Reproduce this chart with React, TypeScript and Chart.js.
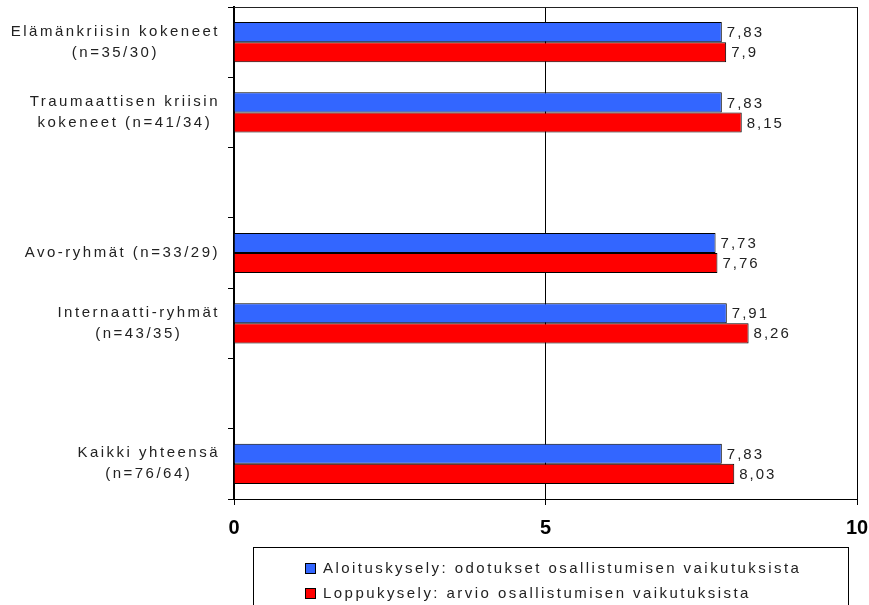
import React, { useEffect, useRef } from "react";
import { Chart, registerables } from "chart.js";

Chart.register(...registerables);

// ---- data ----
const categories: string[][] = [
  ["Elämänkriisin kokeneet", "(n=35/30)"],
  ["Traumaattisen kriisin", "kokeneet (n=41/34)"],
  [""],
  ["Avo-ryhmät (n=33/29)"],
  ["Internaatti-ryhmät", "(n=43/35)"],
  [""],
  ["Kaikki yhteensä", "(n=76/64)"],
];
const seriesNames = [
  "Aloituskysely: odotukset osallistumisen vaikutuksista",
  "Loppukysely: arvio osallistumisen vaikutuksista",
];
const alkuValues: (number | null)[] = [7.83, 7.83, null, 7.73, 7.91, null, 7.83];
const loppuValues: (number | null)[] = [7.9, 8.15, null, 7.76, 8.26, null, 8.03];
const xTicks = [0, 5, 10];
const seriesColors = ["#3366FF", "#FF0000"];

const FONT = "'Liberation Sans', Arial, sans-serif";

const fmt = (v: number) => String(v).replace(".", ",");

const yLabelPlugin = {
  id: "yLabels",
  afterDraw(chart: any) {
    const ctx = chart.ctx;
    const yScale = chart.scales.y;
    ctx.save();
    ctx.font = `15px ${FONT}`;
    (ctx as any).letterSpacing = "2.5px";
    ctx.fillStyle = "#222";
    ctx.textBaseline = "middle";
    ctx.textAlign = "center";
    const rightEdge = 220;
    const lh = 21;
    categories.forEach((lines, i) => {
      const cy = yScale.getPixelForValue(i);
      const maxW = Math.max(...lines.map((l) => ctx.measureText(l).width));
      const cx = rightEdge - maxW / 2;
      const startY = cy - ((lines.length - 1) * lh) / 2;
      lines.forEach((l, j) => {
        ctx.fillText(l, cx, startY + j * lh);
      });
    });
    ctx.restore();
  },
};

const valueLabelPlugin = {
  id: "valueLabels",
  afterDatasetsDraw(chart: any) {
    const ctx = chart.ctx;
    ctx.save();
    ctx.font = `15px ${FONT}`;
    (ctx as any).letterSpacing = "2px";
    ctx.fillStyle = "#222";
    ctx.textBaseline = "middle";
    ctx.textAlign = "left";
    chart.data.datasets.forEach((ds: any, di: number) => {
      const meta = chart.getDatasetMeta(di);
      meta.data.forEach((el: any, i: number) => {
        const v = ds.data[i];
        if (v == null) return;
        ctx.fillText(fmt(v), el.x + 5, el.y + 1);
      });
    });
    ctx.restore();
  },
};

const framePlugin = {
  id: "frame",
  afterDraw(chart: any) {
    const ctx = chart.ctx;
    const a = chart.chartArea;
    ctx.save();
    ctx.strokeStyle = "#222";
    ctx.lineWidth = 1;
    ctx.beginPath();
    ctx.moveTo(a.left, Math.round(a.top) + 0.5);
    ctx.lineTo(a.right + 0.5, Math.round(a.top) + 0.5);
    ctx.stroke();
    ctx.restore();
  },
};

const legendPlugin = {
  id: "boxLegend",
  afterDraw(chart: any) {
    const ctx = chart.ctx;
    ctx.save();
    ctx.strokeStyle = "#000";
    ctx.lineWidth = 1;
    ctx.strokeRect(253.5, 547.5, 595, 90);
    ctx.font = `15px ${FONT}`;
    (ctx as any).letterSpacing = "2.45px";
    ctx.textBaseline = "middle";
    ctx.textAlign = "left";
    seriesNames.forEach((name, i) => {
      const cy = 568 + i * 25;
      ctx.fillStyle = seriesColors[i];
      ctx.fillRect(305, cy - 5, 11, 11);
      ctx.strokeStyle = "#000";
      ctx.strokeRect(305.5, cy - 4.5, 10, 10);
      ctx.fillStyle = "#222";
      ctx.fillText(name, 323, cy + 1);
    });
    ctx.restore();
  },
};

export default function App() {
  const ref = useRef<HTMLCanvasElement | null>(null);

  useEffect(() => {
    if (!ref.current) return;
    const chart = new Chart(ref.current, {
      type: "bar",
      data: {
        labels: categories,
        datasets: [
          {
            label: seriesNames[0],
            data: alkuValues,
            backgroundColor: seriesColors[0],
            borderColor: "#000",
            borderWidth: 1,
            categoryPercentage: 0.572,
            barPercentage: 1,
          },
          {
            label: seriesNames[1],
            data: loppuValues,
            backgroundColor: seriesColors[1],
            borderColor: "#000",
            borderWidth: 1,
            categoryPercentage: 0.572,
            barPercentage: 1,
          },
        ],
      },
      options: {
        responsive: false,
        animation: false,
        indexAxis: "y",
        layout: { padding: { top: 7, right: 12, left: 0, bottom: 0 } },
        plugins: {
          legend: { display: false },
          tooltip: { enabled: false },
        },
        scales: {
          x: {
            min: 0,
            max: 10,
            afterBuildTicks: (s: any) => {
              s.ticks = xTicks.map((v) => ({ value: v }));
            },
            afterFit: (s: any) => {
              s.height = 106;
              s.paddingRight = 0;
              s.paddingLeft = 0;
            },
            grid: {
              color: "#000",
              lineWidth: 1,
              tickLength: 6,
              drawOnChartArea: true,
            },
            border: { display: true, color: "#000", width: 1 },
            ticks: {
              font: { family: FONT, size: 20, weight: "bold" },
              color: "#000",
              padding: 11,
              maxRotation: 0,
            },
          },
          y: {
            afterFit: (s: any) => {
              s.width = 234;
              s.paddingTop = 0;
              s.paddingBottom = 0;
            },
            grid: {
              drawOnChartArea: false,
              tickLength: 6,
              color: "#000",
              offset: true,
            },
            border: { display: true, color: "#000", width: 2 },
            ticks: { display: false },
          },
        },
      } as any,
      plugins: [yLabelPlugin, valueLabelPlugin, framePlugin, legendPlugin],
    });
    return () => chart.destroy();
  }, []);

  return (
    <div style={{ position: "absolute", left: 0, top: 0, width: 869, height: 605, background: "#fff" }}>
      <canvas ref={ref} width={869} height={605} />
    </div>
  );
}
